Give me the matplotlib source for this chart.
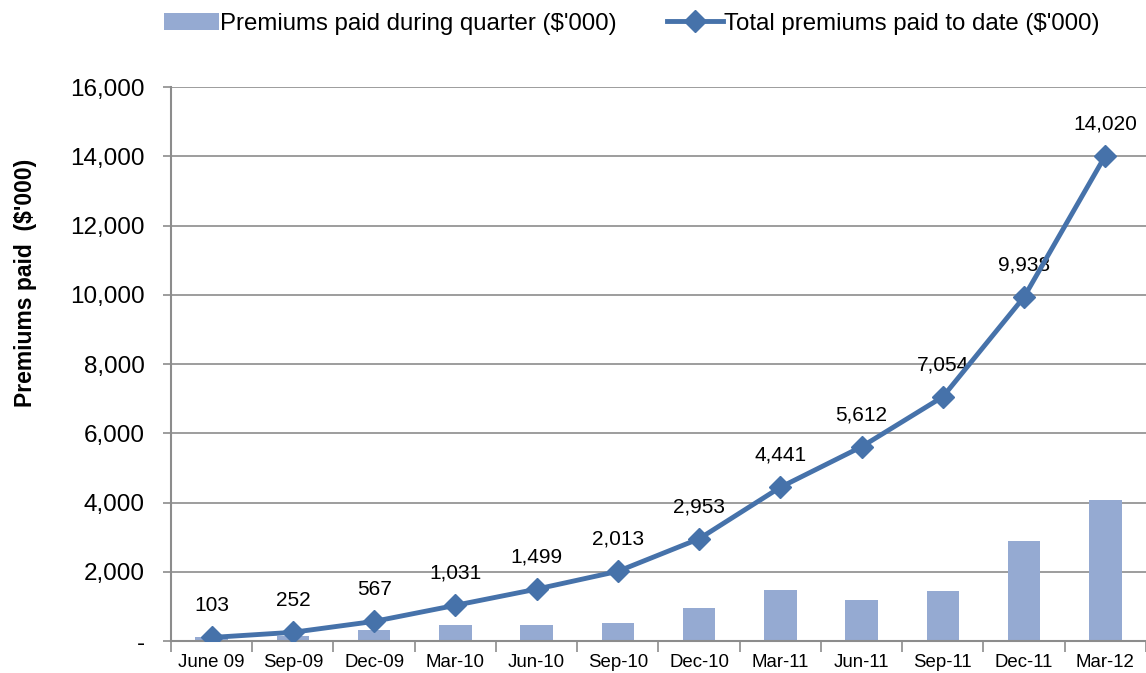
import matplotlib
matplotlib.use("Agg")
import matplotlib.pyplot as plt
import numpy as np
from matplotlib.ticker import FuncFormatter, FixedLocator

plt.rcParams.update({"font.family": ["Liberation Sans", "DejaVu Sans"]})

quarters = ["June 09", "Sep-09", "Dec-09", "Mar-10", "Jun-10", "Sep-10",
            "Dec-10", "Mar-11", "Jun-11", "Sep-11", "Dec-11", "Mar-12"]
quarterly = [103, 149, 315, 464, 468, 514, 940, 1488, 1171, 1442, 2884, 4082]
cumulative = [103, 252, 567, 1031, 1499, 2013, 2953, 4441, 5612, 7054, 9938, 14020]

bar_color = "#95AAD2"
line_color = "#4672AA"
grid_color = "#8C8C8C"

fig = plt.figure(figsize=(11.46, 6.73), dpi=100)
ax = fig.add_axes([0.1492, 0.0475, 0.8508, 0.8232])

x = np.arange(len(quarters))
bars = ax.bar(x, quarterly, width=0.4, color=bar_color, zorder=2)
line, = ax.plot(x, cumulative, color=line_color, lw=3.5, marker="D", ms=11,
                zorder=3)

for xi, v in zip(x, cumulative):
    ax.annotate(f"{v:,}", (xi, v), xytext=(0, 23), textcoords="offset points",
                ha="center", va="center", fontsize=15, zorder=2)

ax.set_xlim(-0.5, len(quarters) - 0.5)
ax.set_ylim(0, 16000)
ax.set_yticks(np.arange(0, 16001, 2000))
ax.yaxis.set_major_formatter(FuncFormatter(lambda v, p: "-" if v == 0 else f"{int(v):,}"))
ax.tick_params(axis="y", labelsize=17.5, length=6, color=grid_color, width=1.2, pad=13)

ax.set_xticks(x)
ax.set_xticklabels(quarters)
ax.tick_params(axis="x", which="major", length=0, labelsize=13.4, pad=9)
ax.xaxis.set_minor_locator(FixedLocator(np.arange(-0.5, len(quarters), 1.0)))
ax.tick_params(axis="x", which="minor", length=8, color=grid_color, width=1.2)

ax.grid(axis="y", color=grid_color, lw=1.2, zorder=0)
ax.set_axisbelow(True)
for side in ["top", "right"]:
    ax.spines[side].set_visible(False)
for side in ["left", "bottom"]:
    ax.spines[side].set_color(grid_color)
    ax.spines[side].set_linewidth(1.5)

ax.set_ylabel("Premiums paid  ($'000)", fontsize=16.5, fontweight="bold")
ax.yaxis.set_label_coords(-0.137, 0.646)

fig.legend([bars, line],
           ["Premiums paid during quarter ($'000)", "Total premiums paid to date ($'000)"],
           loc="center", bbox_to_anchor=(0.551, 0.965), ncol=2, frameon=False,
           fontsize=17.3, handlelength=2.3, handletextpad=0.05, columnspacing=2.1)

fig.savefig("out.png", dpi=100)
